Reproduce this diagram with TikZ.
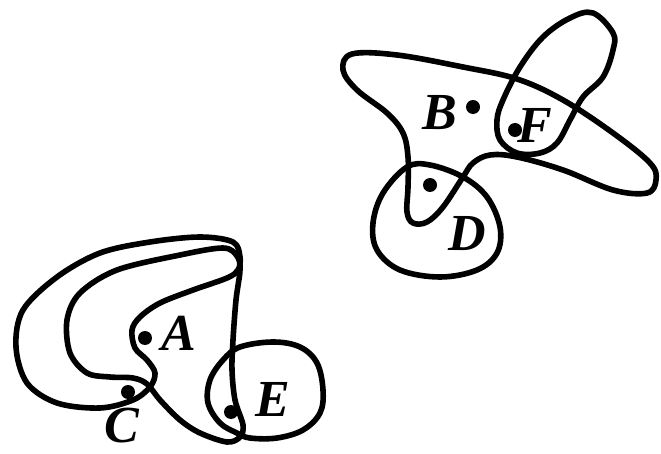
\documentclass[tikz,border=0pt]{standalone}
\usepackage{fontspec}
\setmainfont{Liberation Serif}
\usepackage{tikz}

\begin{document}
\begin{tikzpicture}[x=1pt, y=-1pt,
    loop/.style={line width=5.6pt, line join=round},
    pnt/.style={circle, fill, inner sep=0pt, minimum size=14pt},
    lbl/.style={font=\fontsize{52}{52}\selectfont\bfseries\itshape, inner sep=0pt}]
  \useasboundingbox (0,0) rectangle (661,454);
  % upper group
  \draw[loop] plot[smooth cycle, tension=0.6] coordinates {
    (343,70) (352,54) (397,55) (463,67) (517,79) (563,100) (613,133)
    (650,163) (656,180) (647,193) (613,190) (563,170) (517,157)
    (490,155) (473,163) (463,177) (443,207) (427,222) (413,223)
    (407,212) (408,187) (408,157) (403,133) (387,113) (357,90)};
  \draw[loop] plot[smooth cycle, tension=0.6] coordinates {
    (593,13) (613,33) (613,50) (603,77) (583,97) (570,120) (557,143)
    (540,153) (517,153) (500,140) (497,120) (503,100) (520,67)
    (543,37) (570,18)};
  \draw[loop] plot[smooth cycle, tension=0.6] coordinates {
    (407,167) (430,165) (463,177) (487,197) (500,227) (497,253)
    (477,270) (440,277) (400,270) (377,250) (373,223) (383,193)};
  % lower group
  \draw[loop] plot[smooth cycle, tension=0.55] coordinates {
    (240,257) (233,242) (200,237) (150,242) (100,253) (57,277)
    (23,310) (16,347) (27,383) (57,403) (100,408) (133,400)
    (150,387) (155,373) (147,360) (135,348) (132,330) (140,317)
    (160,303) (193,290) (227,278) (238,270)};
  \draw[loop] plot[smooth cycle, tension=0.55] coordinates {
    (237,256) (223,248) (180,255) (117,270) (80,293) (67,320)
    (70,353) (87,373) (110,377) (133,378) (147,384) (160,400)
    (180,420) (200,433) (227,442) (240,437) (243,425) (235,400)
    (232,370) (233,340) (236,300) (240,270)};
  \draw[loop] plot[smooth cycle, tension=0.6] coordinates {
    (240,347) (273,342) (300,347) (317,363) (323,390) (320,413)
    (303,430) (277,438) (250,438) (237,433) (220,423) (208,403)
    (210,380) (223,360)};
  % points
  \node[pnt] (b) at (473,107) {};
  \node[pnt] (f) at (515,130) {};
  \node[pnt] (d) at (430,185) {};
  \node[pnt] (a) at (145,338) {};
  \node[pnt] (c) at (128,392) {};
  \node[pnt] (e) at (231,412) {};
  \node[lbl] (lb) at (440,113) {B};
  \node[lbl] (lf) at (535,125) {F};
  \node[lbl] (ld) at (467,234) {D};
  \node[lbl] (la) at (179,333) {A};
  \node[lbl] (le) at (273,399) {E};
  \node[lbl] (lc) at (122,426) {C};
\end{tikzpicture}
\end{document}
